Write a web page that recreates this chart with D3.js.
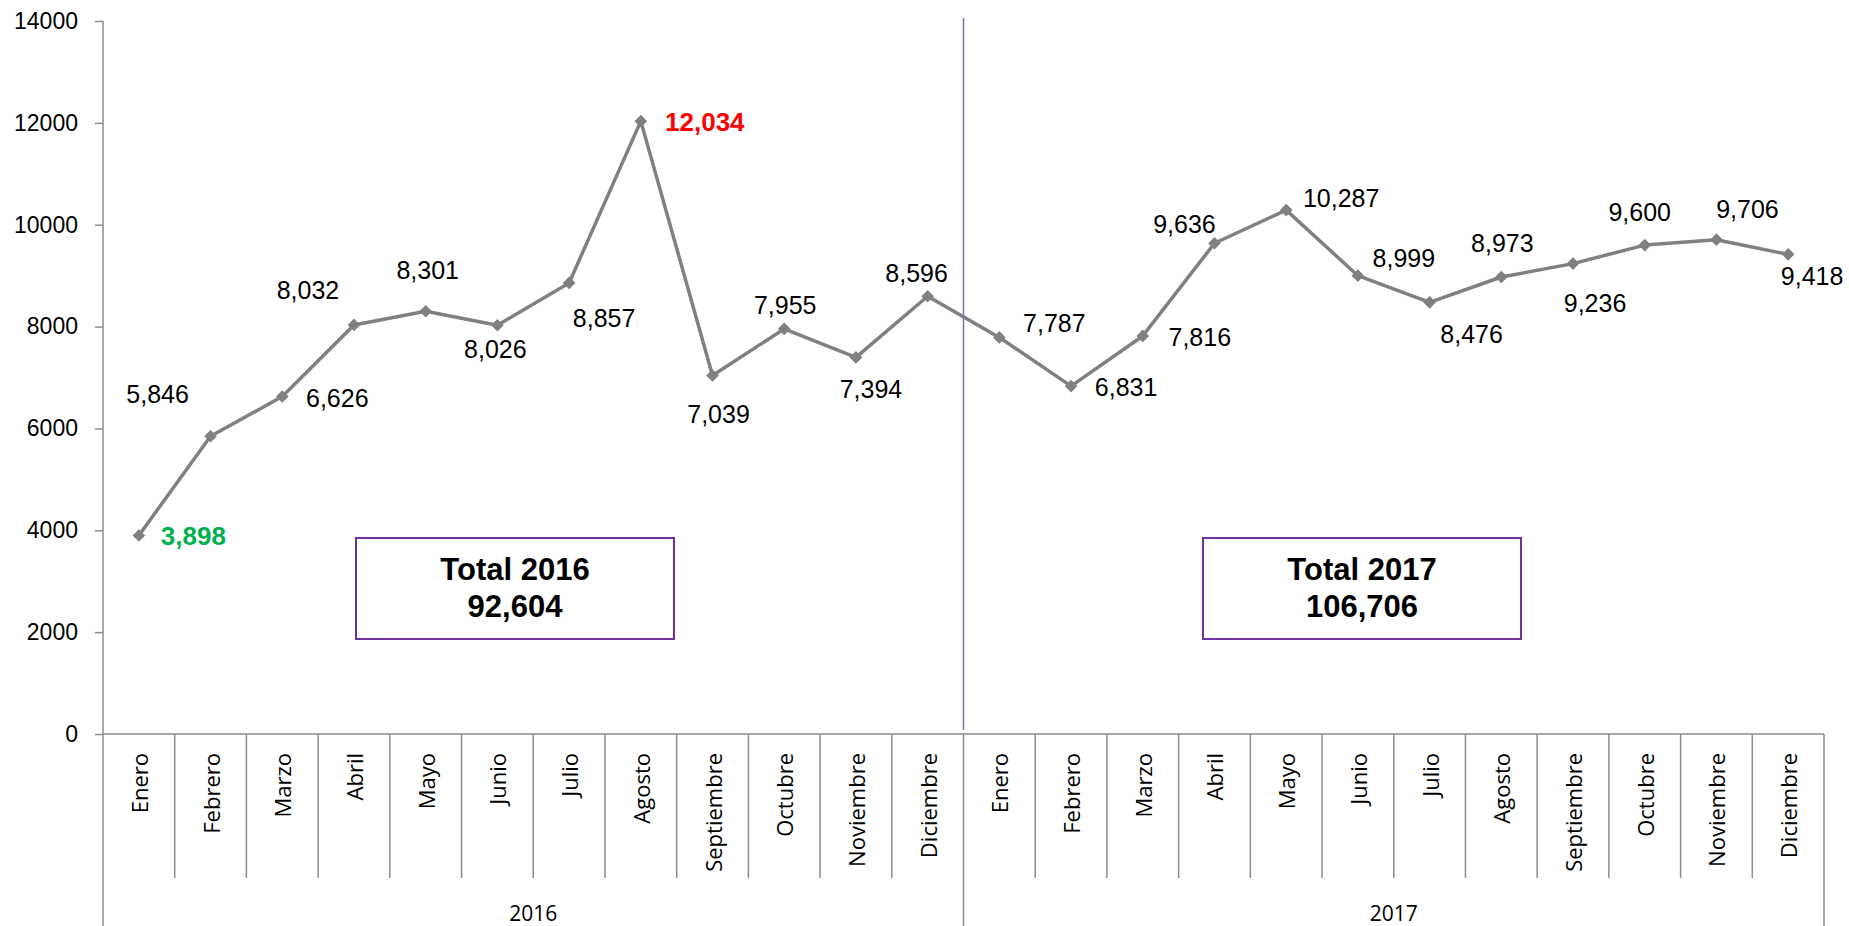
<!DOCTYPE html>
<html>
<head>
<meta charset="utf-8">
<script src="https://cdn.jsdelivr.net/npm/d3@7"></script>
<style>
  body { margin: 0; background: #fff; }
  svg { display: block; }
</style>
</head>
<body>
<svg id="chart" width="1849" height="926"></svg>
<script>
const years = ["2016", "2017"];
const months = ["Enero", "Febrero", "Marzo", "Abril", "Mayo", "Junio", "Julio",
  "Agosto", "Septiembre", "Octubre", "Noviembre", "Diciembre"];
const values2016 = [3898, 5846, 6626, 8032, 8301, 8026, 8857, 12034, 7039, 7955, 7394, 8596];
const values2017 = [7787, 6831, 7816, 9636, 10287, 8999, 8476, 8973, 9236, 9600, 9706, 9418];
const yearTotals = [92604, 106706];   // as printed on the chart
const yTicks = [0, 2000, 4000, 6000, 8000, 10000, 12000, 14000];

// where each value label sits relative to its marker (px)
const labelOffsets = [
  [22, 1], [-53, -42], [55, 1], [-46, -35], [2, -41], [-2, 24], [35, 35], [64, 1], [6, 38], [1, -24], [15, 32], [-11, -23],
  [55, -14], [55, 1], [57, 1], [-30, -19], [55, -12], [46, -18], [42, 32], [1, -34], [22, 39], [-5, -33], [31, -31], [24, 22]
];

const points = [];
years.forEach((yr, yi) => {
  const vals = yi === 0 ? values2016 : values2017;
  months.forEach((mo, mi) => points.push({ key: yr + "-" + mo, year: yr, month: mo, value: vals[mi] }));
});

const maxVal = d3.max(points, d => d.value);
const minVal = d3.min(points, d => d.value);

const svg = d3.select("#chart");
const m = { left: 103, right: 1824, top: 21, bottom: 734 };
const axisColor = "#8c8c8c";

const x = d3.scaleBand().domain(points.map(d => d.key)).range([m.left, m.right]);
const y = d3.scaleLinear().domain([0, 14000]).range([m.bottom, m.top]);
const fmt = d3.format(",");

// y axis
const yAxis = svg.append("g")
  .attr("transform", `translate(${m.left},0)`)
  .call(d3.axisLeft(y).tickValues(yTicks).tickSize(8).tickPadding(17).tickFormat(d3.format("d")));
yAxis.select(".domain").remove();
yAxis.selectAll(".tick line").attr("stroke", axisColor).attr("stroke-width", 1.5);
yAxis.selectAll(".tick text")
  .attr("font-family", "Liberation Sans, Arial, sans-serif")
  .attr("font-size", 23).attr("fill", "#000");

svg.append("line").attr("x1", m.left).attr("x2", m.left).attr("y1", m.top).attr("y2", 926)
  .attr("stroke", axisColor).attr("stroke-width", 1.5);

// x axis baseline
svg.append("line").attr("x1", m.left).attr("x2", m.right).attr("y1", m.bottom).attr("y2", m.bottom)
  .attr("stroke", axisColor).attr("stroke-width", 1.5);

// month separators
const bounds = points.map(d => x(d.key)).concat([m.right]);
bounds.forEach((bx, i) => {
  if (i === 0) return;
  const yearEdge = i % 12 === 0;
  svg.append("line").attr("x1", bx).attr("x2", bx)
    .attr("y1", m.bottom).attr("y2", yearEdge ? 926 : 878)
    .attr("stroke", axisColor).attr("stroke-width", 1.5);
});

// month labels
svg.append("g").selectAll("text").data(points).join("text")
  .attr("transform", d => `translate(${x(d.key) + x.bandwidth() / 2},753) rotate(-90)`)
  .attr("text-anchor", "end")
  .attr("dominant-baseline", "central")
  .attr("font-family", "Open Sans, sans-serif")
  .attr("font-size", 22)
  .text(d => d.month);

// year labels
svg.append("g").selectAll("text").data(years).join("text")
  .attr("x", yr => (x(yr + "-Enero") + x(yr + "-Diciembre") + x.bandwidth()) / 2)
  .attr("y", 913)
  .attr("text-anchor", "middle")
  .attr("dominant-baseline", "central")
  .attr("font-family", "Open Sans, sans-serif")
  .attr("font-size", 21)
  .text(d => d);

// divider between years
svg.append("line")
  .attr("x1", x("2017-Enero")).attr("x2", x("2017-Enero"))
  .attr("y1", 18).attr("y2", 730)
  .attr("stroke", "#8a6bb5").attr("stroke-width", 1.5);

// line + markers
const cx = d => x(d.key) + x.bandwidth() / 2;
svg.append("path").datum(points)
  .attr("d", d3.line().x(cx).y(d => y(d.value)))
  .attr("fill", "none").attr("stroke", "#808080").attr("stroke-width", 3.5)
  .attr("stroke-linejoin", "round");

svg.append("g").selectAll("path").data(points).join("path")
  .attr("transform", d => `translate(${cx(d)},${y(d.value)}) rotate(45)`)
  .attr("d", d3.symbol(d3.symbolSquare, 80))
  .attr("fill", "#808080");

// value labels
svg.append("g").selectAll("text").data(points).join("text")
  .attr("x", (d, i) => cx(d) + labelOffsets[i][0])
  .attr("y", (d, i) => y(d.value) + labelOffsets[i][1])
  .attr("text-anchor", (d, i) => i === 0 ? "start" : "middle")
  .attr("dominant-baseline", "central")
  .attr("font-family", "Liberation Sans, Arial, sans-serif")
  .attr("font-size", d => (d.value === maxVal || d.value === minVal) ? 26 : 25)
  .attr("font-weight", d => (d.value === maxVal || d.value === minVal) ? "bold" : "normal")
  .attr("fill", d => d.value === maxVal ? "#ff0000" : d.value === minVal ? "#00b050" : "#000")
  .text(d => fmt(d.value));

// yearly totals
const boxX = [356, 1203];
const boxes = svg.append("g").selectAll("g").data(years).join("g");
boxes.append("rect")
  .attr("x", (yr, i) => boxX[i])
  .attr("y", 538).attr("width", 318).attr("height", 101)
  .attr("fill", "#fff").attr("stroke", "#7030a0").attr("stroke-width", 2);
boxes.append("text")
  .attr("x", (yr, i) => boxX[i] + 159)
  .attr("y", 569)
  .attr("text-anchor", "middle").attr("dominant-baseline", "central")
  .attr("font-family", "Liberation Sans, Arial, sans-serif")
  .attr("font-size", 31).attr("font-weight", "bold")
  .text(d => "Total " + d);
boxes.append("text")
  .attr("x", (yr, i) => boxX[i] + 159)
  .attr("y", 606)
  .attr("text-anchor", "middle").attr("dominant-baseline", "central")
  .attr("font-family", "Liberation Sans, Arial, sans-serif")
  .attr("font-size", 31).attr("font-weight", "bold")
  .text((d, i) => fmt(yearTotals[i]));
</script>
</body>
</html>
